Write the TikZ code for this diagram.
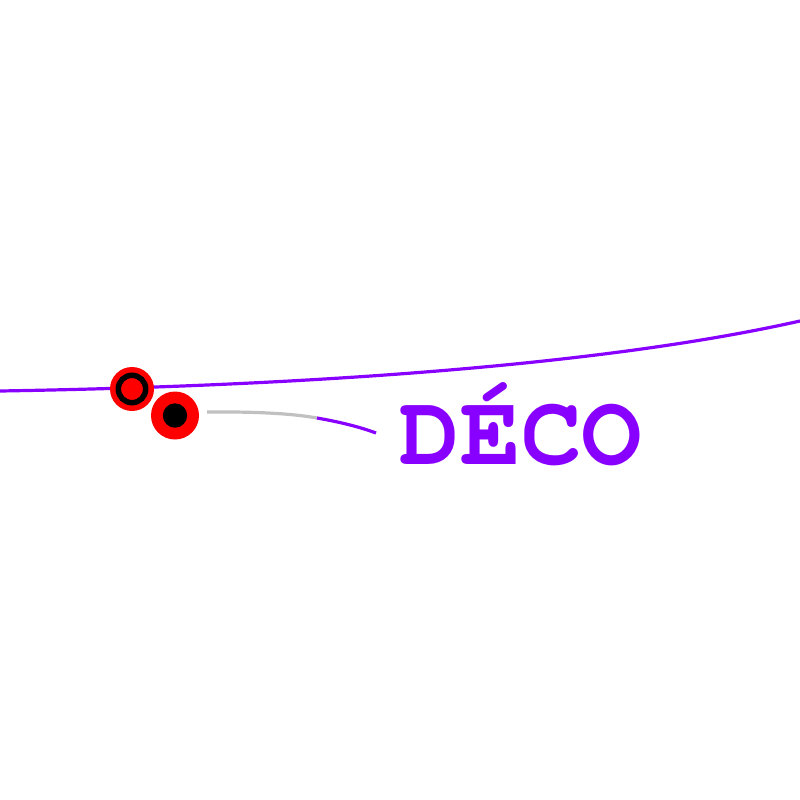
\documentclass[tikz,border=0pt]{standalone}
\usepackage{fontspec}
\newfontfamily\monob{texgyrecursor-bold.otf}
\definecolor{deco}{RGB}{136,0,255}
\definecolor{lgray}{RGB}{192,192,192}
\tikzset{
  wire/.style={line width=3.2pt, draw=deco},
  graywire/.style={line width=3.2pt, draw=lgray},
  reddot/.style={circle, fill=red, inner sep=0pt},
}
\begin{document}
\begin{tikzpicture}[x=1pt,y=-1pt]
\useasboundingbox (0,0) rectangle (800,800);
\coordinate (L) at (0,391);
\coordinate (R) at (800,321);
\draw[wire] (L) .. controls (300,386) and (600,366) .. (R);
% first marker
\node[reddot, minimum size=44pt] (m1) at (132,389) {};
\draw[line width=5.5pt] (m1.center) circle[radius=13.7pt];
% second marker
\node[reddot, minimum size=48pt] (m2) at (175,415.5) {};
\node[circle, fill=black, inner sep=0pt, minimum size=24.4pt] (m2c) at (m2.center) {};
% label connector
\coordinate (g0) at (207,412);
\coordinate (g1) at (317,418);
\coordinate (g2) at (376,433);
\draw[graywire] (g0) .. controls (260,411.5) and (295,414) .. (g1);
\draw[wire] (g1) .. controls (340,422) and (360,427) .. (g2);
\node[anchor=base, text=deco, font=\monob\fontsize{101}{101}\selectfont, inner sep=0pt] (lbl) at (521,464) {DÉCO};
\end{tikzpicture}
\end{document}
